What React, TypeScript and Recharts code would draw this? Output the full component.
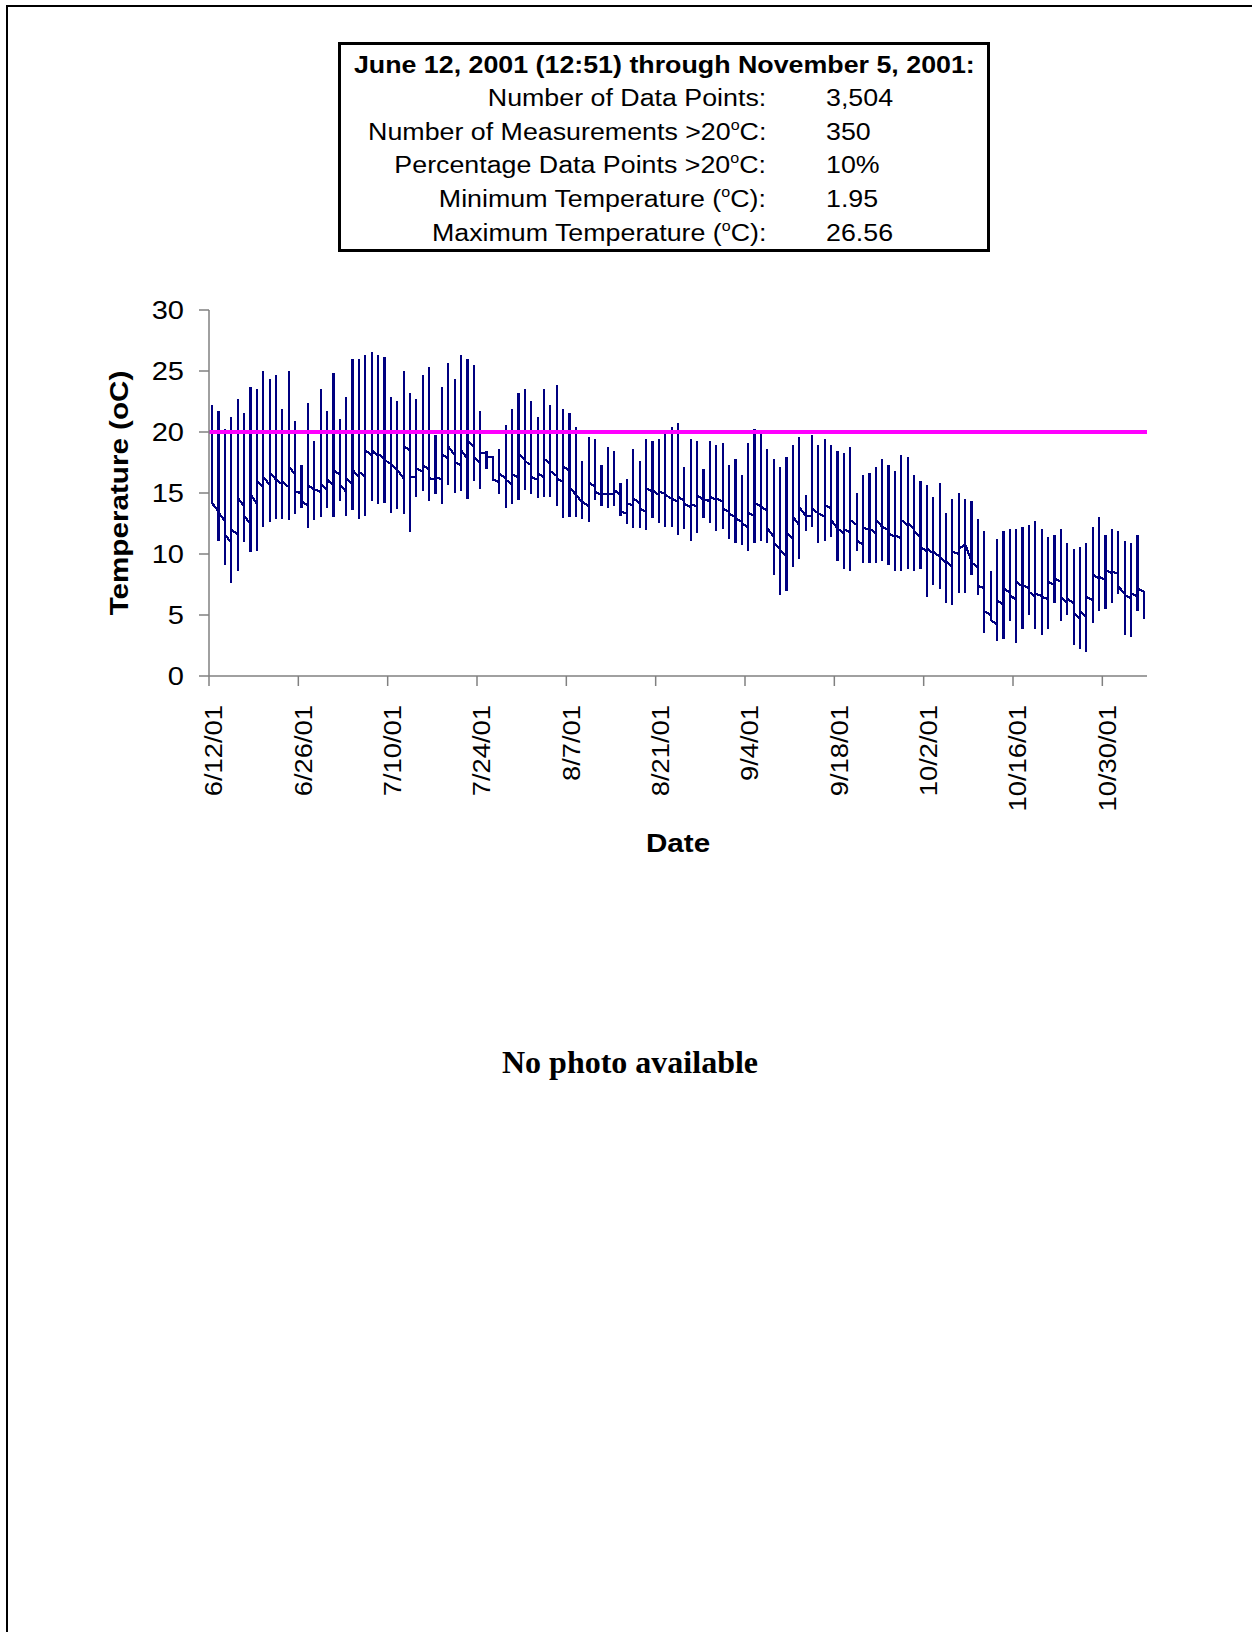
import { LineChart, Line, XAxis, YAxis, ReferenceLine, Label } from 'recharts'

// Daily temperature readings (deg C), one entry per day starting 6/12/01.
// The logger plotted every reading of a day at the same x, so each day shows as
// a vertical stroke from low to high, joined to the next day by the last reading.
const dayHigh = [
  22.2, 21.7, 20.25, 21.2, 22.7, 21.56, 23.67, 23.5, 25.0, 24.35, 24.67, 21.88, 25.0, 20.9, 17.3,
  22.38, 19.26, 23.5, 21.72, 24.84, 21.07, 22.87, 26.0, 26.0, 26.31, 26.56, 26.31, 26.15, 22.87, 22.54,
  25.0, 23.2, 22.7, 24.67, 25.33, 19.75, 23.69, 25.66, 24.34, 26.31, 25.98, 25.49, 21.72, 18.44, 18.06,
  18.6, 20.57, 21.88, 23.2, 23.5, 22.54, 21.23, 23.5, 22.2, 23.85, 21.9, 21.55, 20.4, 17.62, 19.58,
  19.42, 17.3, 18.75, 18.42, 15.8, 16.13, 18.6, 17.62, 19.42, 19.25, 19.42, 19.9, 20.4, 20.71, 17.1,
  19.4, 19.23, 16.94, 19.23, 18.9, 19.07, 17.27, 17.76, 16.45, 19.07, 20.22, 19.89, 18.58, 17.76, 17.1,
  17.92, 18.9, 19.56, 14.81, 19.72, 18.9, 19.4, 18.93, 18.44, 18.28, 18.77, 15.0, 16.47, 16.64, 17.13,
  17.78, 17.29, 16.8, 18.11, 17.95, 16.47, 15.98, 15.65, 14.67, 15.82, 13.36, 14.5, 15.0, 14.5, 14.34,
  12.87, 11.88, 8.58, 11.23, 11.88, 12.05, 12.05, 12.21, 12.37, 12.7, 12.05, 11.39, 11.55, 12.05, 10.9,
  10.41, 10.57, 10.9, 12.21, 13.03, 11.55, 12.05, 11.88, 11.06, 10.9, 11.55, 6.91,
]

const dayLow = [
  14.15, 11.1, 9.1, 7.66, 8.63, 10.96, 10.14, 10.28, 12.25, 12.6, 12.9, 12.9, 12.75, 13.25, 13.74,
  12.1, 12.77, 13.06, 13.74, 13.06, 14.37, 13.1, 13.58, 12.9, 13.1, 14.37, 14.1, 14.21, 13.39, 13.72,
  13.28, 11.8, 14.7, 15.19, 14.37, 14.89, 14.1, 15.68, 15.03, 15.19, 14.53, 16.01, 15.35, 17.0, 15.95,
  14.92, 13.74, 14.07, 14.4, 15.22, 14.89, 14.56, 14.7, 14.7, 13.9, 12.92, 13.07, 13.0, 12.9, 12.6,
  14.4, 13.9, 13.8, 13.9, 13.1, 12.45, 12.1, 12.1, 11.95, 12.92, 12.55, 12.2, 12.25, 11.55, 12.05,
  11.09, 11.75, 12.92, 12.57, 11.91, 12.07, 11.25, 10.93, 10.76, 10.27, 10.93, 11.09, 10.93, 8.3, 6.66,
  6.99, 8.96, 9.62, 11.91, 12.24, 10.93, 11.09, 11.42, 9.45, 8.79, 8.63, 10.27, 9.29, 9.29, 9.29,
  9.45, 9.12, 8.63, 8.63, 8.79, 8.63, 8.79, 6.5, 7.48, 7.15, 6.01, 5.84, 6.83, 6.83, 8.3,
  6.66, 3.55, 4.59, 2.89, 3.06, 4.53, 2.73, 3.88, 5.02, 3.88, 3.38, 3.88, 6.01, 4.53, 5.02,
  2.56, 2.24, 1.95, 4.37, 5.35, 5.51, 6.01, 6.72, 3.38, 3.22, 5.35, 4.7,
]

// first and last reading of each day
const dayStart = [
  20.0, 13.5, 12.7, 10.9, 11.6, 13.9, 12.5, 14.1, 15.5, 15.7, 16.1, 15.7, 15.5, 16.5, 15.0,
  14.0, 15.3, 15.1, 15.3, 15.6, 16.5, 15.1, 15.7, 16.3, 16.3, 18.1, 18.0, 17.8, 17.4, 16.9,
  16.2, 18.5, 16.3, 16.75, 16.9, 16.1, 16.1, 17.8, 18.1, 17.3, 17.8, 18.8, 17.4, 18.25, 17.9,
  15.9, 16.2, 15.7, 16.3, 17.7, 17.3, 16.1, 16.3, 17.4, 16.4, 15.9, 16.8, 14.85, 14.2, 13.9,
  15.5, 14.85, 14.92, 14.92, 14.83, 13.33, 14.0, 14.15, 13.47, 15.1, 14.83, 14.97, 14.56, 14.29, 14.37,
  13.82, 13.88, 14.42, 14.37, 14.42, 14.29, 13.47, 13.0, 12.65, 12.18, 13.11, 13.93, 13.55, 11.4, 10.46,
  9.78, 11.28, 12.37, 13.11, 13.11, 13.33, 13.06, 13.74, 12.1, 11.7, 11.8, 12.4, 10.73, 11.96, 11.69,
  12.24, 11.96, 11.42, 11.3, 12.37, 12.1, 11.42, 10.19, 10.05, 9.78, 9.23, 8.96, 10.0, 10.8, 9.4,
  8.9, 7.2, 5.0, 4.2, 5.82, 6.83, 6.23, 7.32, 7.18, 6.5, 6.55, 6.3, 7.46, 7.73, 5.95,
  5.95, 4.72, 4.86, 6.23, 8.0, 7.87, 8.41, 8.41, 6.77, 6.36, 6.5, 6.91,
]

const dayEnd = [
  14.15, 13.4, 11.6, 12.0, 14.6, 13.1, 14.9, 16.0, 16.3, 16.7, 16.1, 15.9, 17.2, 15.1, 14.3,
  15.6, 15.3, 15.7, 16.1, 16.9, 15.7, 16.2, 16.9, 16.75, 18.5, 18.5, 18.2, 17.7, 17.4, 16.9,
  18.85, 16.3, 17.0, 17.3, 16.2, 16.3, 18.2, 18.8, 17.5, 18.5, 19.3, 18.0, 18.3, 18.0, 16.1,
  16.6, 16.1, 16.5, 18.2, 17.6, 16.3, 16.6, 17.8, 16.8, 16.2, 17.2, 15.5, 14.9, 14.3, 15.9,
  15.1, 14.95, 14.92, 15.24, 13.47, 14.15, 14.56, 13.74, 15.38, 15.24, 15.1, 14.83, 14.56, 14.7, 14.1,
  14.1, 14.83, 14.42, 14.7, 14.56, 13.74, 13.33, 12.92, 12.51, 13.39, 14.2, 13.88, 12.1, 10.87, 10.3,
  11.7, 13.06, 13.88, 13.11, 13.74, 13.33, 14.0, 12.78, 12.1, 12.0, 12.78, 11.15, 12.18, 12.1, 12.78,
  12.24, 11.69, 11.5, 12.78, 12.5, 11.83, 10.6, 10.46, 10.19, 9.78, 9.37, 10.2, 10.4, 10.8, 9.3,
  7.4, 5.3, 4.6, 6.23, 7.18, 6.64, 7.73, 7.46, 6.91, 6.77, 6.5, 7.73, 8.0, 6.5, 6.36,
  5.13, 5.27, 6.5, 8.3, 8.14, 8.68, 8.55, 7.32, 6.64, 6.77, 7.18, 4.7,
]

const tickDays = [0, 14, 28, 42, 56, 70, 84, 98, 112, 126, 140]
const tickLabels = [
  '6/12/01', '6/26/01', '7/10/01', '7/24/01', '8/7/01', '8/21/01',
  '9/4/01', '9/18/01', '10/2/01', '10/16/01', '10/30/01',
]
const yTicks = [0, 5, 10, 15, 20, 25, 30]
const threshold = 20

const statLabels = [
  'Number of Data Points:',
  'Number of Measurements >20°C:',
  'Percentage Data Points >20°C:',
  'Minimum Temperature (°C):',
  'Maximum Temperature (°C):',
]
const statValues = ['3,504', '350', '10%', '1.95', '26.56']

// each day's readings stacked at one x: start -> low -> high -> end
const series = dayHigh.flatMap((hi, d) => {
  const x = d + 0.5
  return [
    { x, t: dayStart[d] },
    { x, t: dayLow[d] },
    { x, t: hi },
    { x, t: dayEnd[d] },
  ]
})

const SANS = '"Liberation Sans", Arial, sans-serif'
const STRETCH = 1.14
const AXIS = '#808080'

function YTick(props: any) {
  const { x, y, payload } = props
  return (
    <text
      transform={`translate(${x},${y}) scale(${STRETCH},1)`}
      textAnchor="end" dominantBaseline="central"
      fontFamily={SANS} fontSize={25.5} fill="#000"
    >
      {payload.value}
    </text>
  )
}

function XTick(props: any) {
  const { x, y, payload } = props
  const label = tickLabels[tickDays.indexOf(payload.value)] ?? ''
  return (
    <text
      transform={`translate(${x + 5},${y}) rotate(-90) scale(${STRETCH},1)`}
      textAnchor="end" dominantBaseline="central"
      fontFamily={SANS} fontSize={24} fill="#000"
    >
      {label}
    </text>
  )
}

function withSup(s: string) {
  const parts = s.split('°')
  if (parts.length === 1) return s
  return (
    <>
      {parts[0]}
      <sup style={{ fontSize: '0.6em', verticalAlign: '0.7em', lineHeight: 0 }}>o</sup>
      {parts[1]}
    </>
  )
}

function StatsBox() {
  const rowTop = (i: number) => 53 + i * 33.7 - 15
  return (
    <div style={{
      position: 'absolute', left: 338, top: 42, width: 652, height: 210,
      border: '3px solid #000', boxSizing: 'border-box', background: '#fff',
      fontFamily: SANS, color: '#000',
    }}>
      <div style={{
        position: 'absolute', left: 0, right: 0, top: 5, height: 30, lineHeight: '30px',
        textAlign: 'center', fontWeight: 'bold', fontSize: 23.5,
      }}>
        <span style={{ display: 'inline-block', transform: `scaleX(${STRETCH})` }}>
          June 12, 2001 (12:51) through November 5, 2001:
        </span>
      </div>
      {statLabels.map((lab, i) => (
        <div key={lab}>
          <div style={{
            position: 'absolute', right: 646 - 425, top: rowTop(i), height: 30, lineHeight: '30px',
            fontSize: 23.5, whiteSpace: 'nowrap', transform: `scaleX(${STRETCH})`, transformOrigin: 'right center',
          }}>
            {withSup(lab)}
          </div>
          <div style={{
            position: 'absolute', left: 485, top: rowTop(i), height: 30, lineHeight: '30px',
            fontSize: 23.5, whiteSpace: 'nowrap', transform: `scaleX(${STRETCH})`, transformOrigin: 'left center',
          }}>
            {statValues[i]}
          </div>
        </div>
      ))}
    </div>
  )
}

export default function App() {
  return (
    <div style={{ position: 'absolute', left: 0, top: 0, width: 1252, height: 1632, background: '#fff', overflow: 'hidden' }}>
      {/* page frame */}
      <div style={{
        position: 'absolute', left: 6, top: 5, right: -4, bottom: -4,
        borderTop: '2px solid #000', borderLeft: '2px solid #000',
      }} />

      <div style={{ position: 'absolute', left: 0, top: 0 }}>
        <LineChart
          width={1252} height={900} data={series}
          margin={{ top: 310, right: 105, left: 149, bottom: 74 }}
        >
          <XAxis
            dataKey="x" type="number" domain={[0, 147]} ticks={tickDays} interval={0}
            height={150} tick={<XTick />} tickSize={10} tickMargin={19}
            axisLine={{ stroke: AXIS, strokeWidth: 1.5 }} tickLine={{ stroke: AXIS, strokeWidth: 1.5 }}
            allowDataOverflow
          >
            <Label content={() => (
              <text
                transform={`translate(678,843) scale(${STRETCH},1)`}
                textAnchor="middle" dominantBaseline="central"
                fontFamily={SANS} fontWeight="bold" fontSize={26} fill="#000"
              >Date</text>
            )} />
          </XAxis>
          <YAxis
            type="number" domain={[0, 30]} ticks={yTicks} interval={0} width={60}
            tick={<YTick />} tickSize={10} tickMargin={15}
            axisLine={{ stroke: AXIS, strokeWidth: 1.5 }} tickLine={{ stroke: AXIS, strokeWidth: 1.5 }}
          >
            <Label content={() => (
              <text
                transform={`translate(119,493) rotate(-90) scale(${STRETCH},1)`}
                textAnchor="middle" dominantBaseline="central"
                fontFamily={SANS} fontWeight="bold" fontSize={26} fill="#000"
              >Temperature (oC)</text>
            )} />
          </YAxis>
          <Line
            type="linear" dataKey="t" stroke="#000080" strokeWidth={2.2}
            dot={false} activeDot={false} isAnimationActive={false}
            style={{ shapeRendering: 'crispEdges' }}
          />
          <ReferenceLine y={threshold} stroke="#FF00FF" strokeWidth={4} />
        </LineChart>
      </div>

      <StatsBox />

      <div style={{
        position: 'absolute', left: 430, width: 400, top: 1042, height: 40, lineHeight: '40px',
        textAlign: 'center', fontFamily: '"Liberation Serif", "Times New Roman", serif',
        fontWeight: 'bold', fontSize: 32, color: '#000',
      }}>
        No photo available
      </div>
    </div>
  )
}
